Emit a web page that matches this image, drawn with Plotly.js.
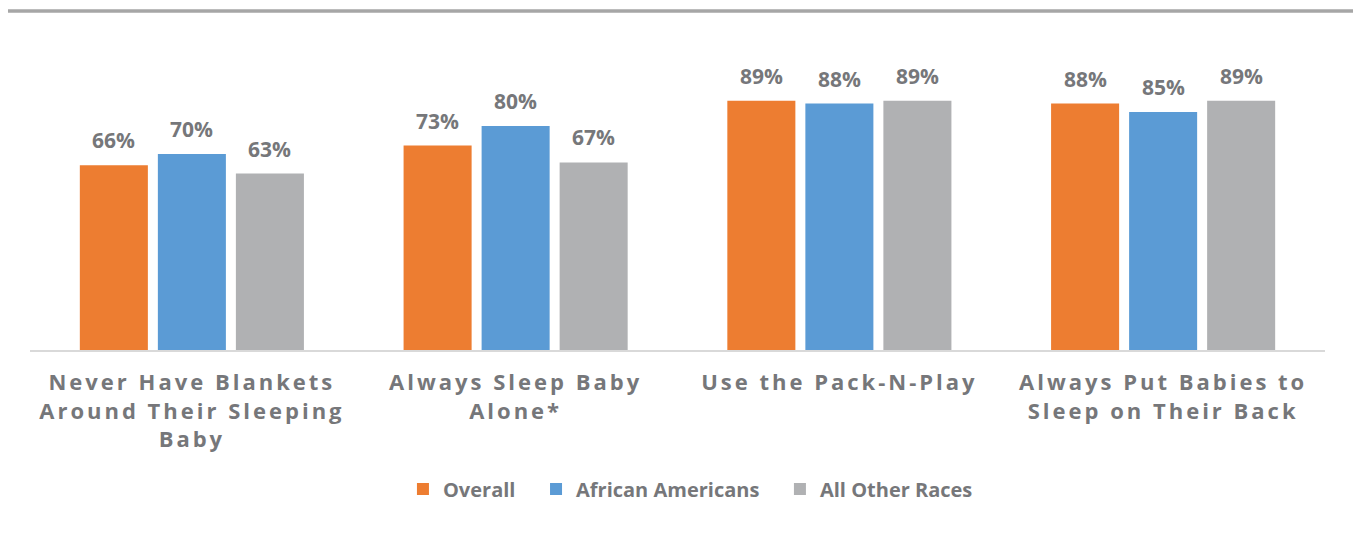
<!DOCTYPE html>
<html>
<head>
<meta charset="utf-8">
<script src="https://cdn.plot.ly/plotly-3.0.1.min.js"></script>
<style>
html,body{margin:0;padding:0;background:#fff;}
#chart .xtick text{letter-spacing:3px;}
</style>
</head>
<body>
<div id="chart" style="width:1353px;height:550px;"></div>
<script>
const categories = [
  "Never Have Blankets<br>Around Their Sleeping<br>Baby",
  "Always Sleep Baby<br>Alone*",
  "Use the Pack-N-Play",
  "Always Put Babies to<br>Sleep on Their Back"
];
const seriesNames = ["Overall", "African Americans", "All Other Races"];
const overall = [66, 73, 89, 88];
const africanAmericans = [70, 80, 88, 85];
const allOtherRaces = [63, 67, 89, 89];

const seriesValues = [overall, africanAmericans, allOtherRaces];
const colors = ["#ED7D31", "#5B9BD5", "#B0B1B3"];
const textColor = "#76777a";
const fontFamily = "'Open Sans', 'DejaVu Sans', sans-serif";
const legendPad = ["\u00a0\u00a0\u00a0", "\u00a0\u00a0\u00a0", ""];

const traces = seriesValues.map((vals, i) => ({
  type: "bar",
  name: seriesNames[i] + legendPad[i],
  x: categories,
  y: vals,
  marker: {color: colors[i]},
  hoverinfo: "none"
}));

const offsets = [-78, 0, 78];
const annotations = [];
seriesValues.forEach((vals, i) => {
  vals.forEach((v, j) => {
    annotations.push({
      x: categories[j], y: v, xref: "x", yref: "y",
      text: v + "%", showarrow: false,
      xshift: offsets[i], yshift: 9, yanchor: "bottom",
      font: {family: fontFamily, size: 21, color: textColor, weight: "bold"}
    });
  });
});

const layout = {
  width: 1353, height: 550,
  margin: {l: 30, r: 28, t: 70, b: 200},
  paper_bgcolor: "#ffffff", plot_bgcolor: "#ffffff",
  barmode: "group", bargap: 0.277, bargroupgap: 0.128,
  showlegend: true,
  legend: {
    orientation: "h", x: 0.51, xanchor: "center", y: -0.496, yanchor: "middle",
    font: {family: fontFamily, size: 20, color: textColor, weight: "bold"},
    itemclick: false, itemdoubleclick: false
  },
  xaxis: {
    showline: true, linecolor: "#d9d9d9", linewidth: 1.5,
    showgrid: false, zeroline: false, ticks: "",
    tickfont: {family: fontFamily, size: 22, color: textColor, weight: "bold"},
    ticklabelstandoff: 12
  },
  yaxis: {
    range: [0, 100], visible: false, showgrid: false, zeroline: false
  },
  shapes: [{
    type: "line", xref: "paper", yref: "paper",
    x0: -0.017, x1: 1.03, y0: 1.211, y1: 1.211,
    line: {color: "#a6a6a6", width: 3.5}
  }],
  annotations: annotations
};

Plotly.newPlot("chart", traces, layout, {displayModeBar: false, staticPlot: true});
</script>
</body>
</html>
